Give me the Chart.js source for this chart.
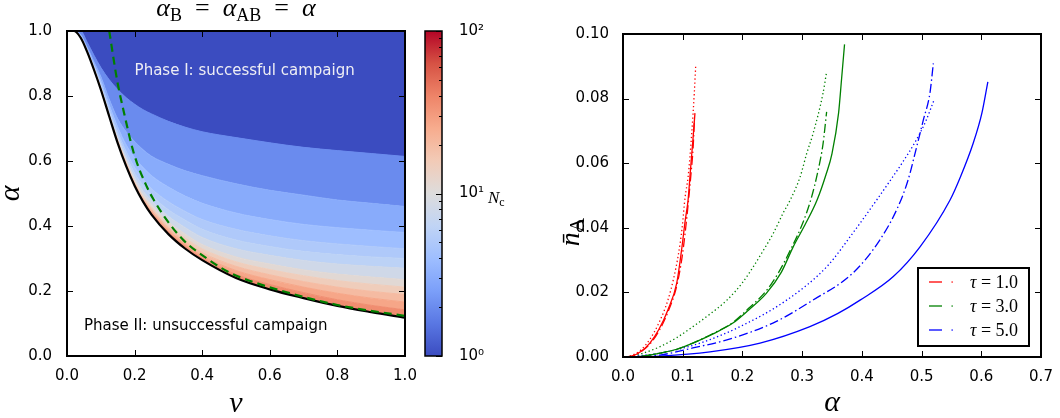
<!DOCTYPE html>
<html>
<head>
<meta charset="utf-8">
<script src="https://cdn.jsdelivr.net/npm/chart.js@4.4.1/dist/chart.umd.min.js"></script>
<style>
  html, body { margin: 0; padding: 0; background: #fff; }
  #wrap { position: relative; width: 1060px; height: 418px; }
  .pane { position: absolute; top: 0; height: 418px; }
</style>
</head>
<body>
<div id="wrap">
  <div class="pane" style="left:0;width:420px"><canvas id="phaseChart"></canvas></div>
  <div class="pane" style="left:410px;width:130px"><canvas id="cbarChart"></canvas></div>
  <div class="pane" style="left:540px;width:520px"><canvas id="densChart"></canvas></div>
</div>
<script>
// ---- phase diagram: N_c over (nu, alpha), alpha_B = alpha_AB = alpha ----
const nuGrid    = [0, 0.02, 0.04, 0.06, 0.08, 0.1, 0.125, 0.15, 0.175, 0.2, 0.225, 0.25, 0.3, 0.35, 0.4, 0.5, 0.6, 0.7, 0.8, 0.9, 1.0];
const alphaCrit = [1, 1, 0.98, 0.935, 0.88, 0.82, 0.737, 0.655, 0.584, 0.524, 0.475, 0.435, 0.375, 0.33, 0.295, 0.24, 0.205, 0.178, 0.154, 0.135, 0.118];
// level curves of N_c, from the top band (N_c = 1) down towards the critical line
const ncEdge1  = [1, 1, 1, 0.965, 0.925, 0.888, 0.85, 0.82, 0.795, 0.775, 0.758, 0.745, 0.722, 0.704, 0.69, 0.672, 0.656, 0.642, 0.632, 0.623, 0.614];
const ncEdge2  = [1, 1, 0.99, 0.95, 0.905, 0.86, 0.79, 0.73, 0.69, 0.66, 0.635, 0.615, 0.59, 0.57, 0.555, 0.53, 0.51, 0.495, 0.48, 0.47, 0.46];
const ncEdge3  = [1, 1, 0.987, 0.945, 0.897, 0.847, 0.772, 0.705, 0.65, 0.61, 0.58, 0.555, 0.52, 0.492, 0.47, 0.44, 0.42, 0.405, 0.395, 0.387, 0.38];
const ncEdge4  = [1, 1, 0.985, 0.942, 0.892, 0.838, 0.76, 0.69, 0.63, 0.58, 0.545, 0.515, 0.475, 0.445, 0.42, 0.39, 0.37, 0.355, 0.345, 0.337, 0.33];
const ncEdge5  = [1, 1, 0.984, 0.94, 0.888, 0.832, 0.752, 0.68, 0.617, 0.563, 0.525, 0.495, 0.45, 0.418, 0.39, 0.357, 0.337, 0.322, 0.312, 0.305, 0.30];
const ncEdge6  = [1, 1, 0.983, 0.939, 0.886, 0.828, 0.746, 0.672, 0.607, 0.55, 0.508, 0.478, 0.43, 0.395, 0.365, 0.33, 0.31, 0.294, 0.283, 0.276, 0.27];
const ncEdge7  = [1, 1, 0.982, 0.938, 0.884, 0.825, 0.742, 0.666, 0.6, 0.54, 0.496, 0.465, 0.413, 0.375, 0.343, 0.305, 0.283, 0.265, 0.252, 0.243, 0.235];
const ncEdge8  = [1, 1, 0.9815, 0.9375, 0.883, 0.824, 0.74, 0.663, 0.595, 0.535, 0.489, 0.457, 0.403, 0.363, 0.33, 0.29, 0.266, 0.247, 0.232, 0.221, 0.212];
const ncEdge9  = [1, 1, 0.981, 0.937, 0.882, 0.823, 0.739, 0.661, 0.592, 0.531, 0.484, 0.451, 0.395, 0.353, 0.318, 0.276, 0.25, 0.229, 0.212, 0.199, 0.189];
const ncEdge10 = [1, 1, 0.9805, 0.9365, 0.8815, 0.822, 0.738, 0.659, 0.589, 0.528, 0.48, 0.445, 0.387, 0.344, 0.308, 0.263, 0.235, 0.212, 0.193, 0.178, 0.166];
const ncEdge11 = [1, 1, 0.9803, 0.936, 0.881, 0.821, 0.7375, 0.657, 0.587, 0.526, 0.478, 0.44, 0.381, 0.337, 0.301, 0.251, 0.22, 0.195, 0.173, 0.156, 0.142];
// N_c value shown in each band, top band first
const bandNc = [1, 2, 3, 4, 5, 6, 8, 11, 15, 20, 27, 36];
// mean-field estimate of the boundary
const nuGreen    = [0.125, 0.148, 0.169, 0.198, 0.237, 0.257, 0.296, 0.346, 0.414, 0.482, 0.55, 0.65, 0.8, 1.0];
const alphaGreen = [1.0, 0.85, 0.747, 0.623, 0.519, 0.48, 0.417, 0.355, 0.3, 0.256, 0.228, 0.196, 0.157, 0.123];

const cbarTickValues = [1, 2, 3, 4, 5, 6, 7, 8, 9, 10, 20, 30, 40, 50, 60, 70, 80, 90, 100];
const cbarLabels = { 1: '10⁰', 10: '10¹', 100: '10²' };

// ---- n_A against alpha for three tau values ----
const tauValues = ['1.0', '3.0', '5.0'];
const tau1SolidA = [0.005, 0.015, 0.03, 0.045, 0.06, 0.075, 0.09, 0.098, 0.104, 0.109, 0.113, 0.117, 0.1205];
const tau1SolidN = [0, 0.0003, 0.0017, 0.0043, 0.0085, 0.0145, 0.0229, 0.033, 0.042, 0.0486, 0.058, 0.067, 0.0755];
const tau1DashA  = [0.005, 0.015, 0.03, 0.045, 0.06, 0.075, 0.09, 0.099, 0.105, 0.11, 0.114, 0.1175, 0.1195];
const tau1DashN  = [0, 0.0003, 0.0016, 0.004, 0.008, 0.0138, 0.022, 0.031, 0.04, 0.049, 0.057, 0.065, 0.073];
const tau1DotA   = [0.005, 0.015, 0.03, 0.045, 0.06, 0.075, 0.085, 0.093, 0.099, 0.104, 0.109, 0.115, 0.1195, 0.1217];
const tau1DotN   = [0, 0.0005, 0.0022, 0.0055, 0.0105, 0.0175, 0.0245, 0.032, 0.04, 0.0495, 0.0557, 0.069, 0.082, 0.090];
const tau3SolidA = [0.005, 0.03, 0.062, 0.09, 0.117, 0.15, 0.184, 0.21, 0.24, 0.265, 0.285, 0.305, 0.325, 0.34, 0.35, 0.361, 0.366, 0.371];
const tau3SolidN = [0, 0.0002, 0.0012, 0.0024, 0.0043, 0.0071, 0.0105, 0.0145, 0.0197, 0.0262, 0.0341, 0.041, 0.0486, 0.0565, 0.063, 0.0755, 0.086, 0.0968];
const tau3DashA  = [0.005, 0.03, 0.062, 0.09, 0.117, 0.15, 0.184, 0.21, 0.24, 0.26, 0.28, 0.3, 0.315, 0.327, 0.335, 0.341];
const tau3DashN  = [0, 0.0002, 0.0012, 0.0024, 0.0043, 0.0072, 0.0107, 0.015, 0.0205, 0.026, 0.033, 0.041, 0.049, 0.058, 0.066, 0.0759];
const tau3DotA   = [0.005, 0.0335, 0.062, 0.09, 0.117, 0.145, 0.174, 0.2, 0.218, 0.235, 0.252, 0.268, 0.28, 0.2965, 0.3076, 0.318, 0.335, 0.341];
const tau3DotN   = [0, 0.0012, 0.0032, 0.006, 0.0094, 0.0132, 0.0176, 0.023, 0.0279, 0.033, 0.0384, 0.0445, 0.0486, 0.0557, 0.063, 0.069, 0.0817, 0.0883];
const tau5SolidA = [0.005, 0.062, 0.1457, 0.2295, 0.313, 0.36, 0.397, 0.4527, 0.4974, 0.5477, 0.5645, 0.5863, 0.601, 0.611];
const tau5SolidN = [0, 0.0003, 0.0016, 0.0043, 0.0094, 0.0135, 0.0176, 0.0249, 0.0341, 0.0486, 0.0555, 0.0661, 0.0755, 0.0852];
const tau5DashA  = [0.005, 0.062, 0.117, 0.174, 0.251, 0.318, 0.385, 0.43, 0.4606, 0.4774, 0.4917, 0.503, 0.514, 0.5197];
const tau5DashN  = [0, 0.0006, 0.0028, 0.0053, 0.0105, 0.0176, 0.026, 0.0362, 0.0465, 0.0548, 0.065, 0.0734, 0.0817, 0.0909];
const tau5DotA   = [0.005, 0.062, 0.129, 0.196, 0.274, 0.341, 0.385, 0.4248, 0.447, 0.469, 0.49, 0.507, 0.521];
const tau5DotN   = [0, 0.0012, 0.0043, 0.0094, 0.0176, 0.0279, 0.0384, 0.0486, 0.0545, 0.0605, 0.0668, 0.073, 0.0796];

// ---- helpers ----
const SANS = '"DejaVu Sans", sans-serif';
const SERIF = '"Liberation Serif", "DejaVu Serif", serif';
const tickFont = { family: SANS, size: 15 };

const coolwarmStops = ['#3b4cc0', '#5977e3', '#7b9ff9', '#9ebeff', '#c0d4f5', '#dddcdc', '#f2cbb7', '#f7ac8e', '#ee8468', '#d65244', '#b40426'];
const hexRgb = h => [1, 3, 5].map(i => parseInt(h.slice(i, i + 2), 16));
function coolwarm(t) {
    t = Math.min(1, Math.max(0, t));
    const f = t * 10, i = Math.min(9, Math.floor(f)), u = f - i;
    const a = hexRgb(coolwarmStops[i]), b = hexRgb(coolwarmStops[i + 1]);
    return `rgb(${a.map((v, k) => Math.round(v + (b[k] - v) * u)).join(',')})`;
}

// parts: [text, kind]; kind 'it' italic, 'rm' upright, 'sub' upright subscript
function drawMath(ctx, parts, x, y, size, align = 'center') {
    const fontOf = p => `${p[1] === 'it' ? 'italic ' : ''}${p[1] === 'sub' ? Math.round(size * 0.7) : size}px ${SERIF}`;
    let total = 0;
    const widths = parts.map(p => { ctx.font = fontOf(p); const w = ctx.measureText(p[0]).width; total += w; return w; });
    let cx = align === 'center' ? x - total / 2 : x;
    ctx.textAlign = 'left';
    ctx.textBaseline = 'alphabetic';
    parts.forEach((p, i) => {
        ctx.font = fontOf(p);
        ctx.fillText(p[0], cx, p[1] === 'sub' ? y + size * 0.18 : y);
        cx += widths[i];
    });
}
function drawMathRotated(ctx, parts, x, y, size) {
    ctx.save();
    ctx.translate(x, y);
    ctx.rotate(-Math.PI / 2);
    drawMath(ctx, parts, 0, 0, size);
    ctx.restore();
}

// box round the plot area with inward ticks on every side
const frame = {
    id: 'frame',
    afterDatasetsDraw(chart, args, opts) {
        const { ctx, chartArea: a } = chart;
        ctx.save();
        ctx.strokeStyle = '#000';
        ctx.lineWidth = 1;
        const len = opts.tickLen || 6;
        const sides = opts.sides || ['top', 'right', 'bottom', 'left'];
        ctx.beginPath();
        for (const id of ['x', 'y']) {
            const s = chart.scales[id];
            if (!s || !s.options.display) continue;
            s.ticks.forEach(t => {
                const p = Math.round(s.getPixelForValue(t.value)) + 0.5;
                const l = opts.minorLen && !cbarLabels[t.value] ? opts.minorLen : len;
                if (id === 'x') {
                    if (sides.includes('bottom')) { ctx.moveTo(p, a.bottom); ctx.lineTo(p, a.bottom - l); }
                    if (sides.includes('top')) { ctx.moveTo(p, a.top); ctx.lineTo(p, a.top + l); }
                } else {
                    if (sides.includes('left')) { ctx.moveTo(a.left, p); ctx.lineTo(a.left + l, p); }
                    if (sides.includes('right')) { ctx.moveTo(a.right, p); ctx.lineTo(a.right - l, p); }
                }
            });
        }
        ctx.stroke();
        ctx.lineWidth = opts.lineWidth || 2;
        ctx.strokeRect(a.left, a.top, a.width, a.height);
        ctx.restore();
    }
};

const baseOpts = {
    responsive: true,
    maintainAspectRatio: false,
    animation: false,
    events: [],
    elements: { point: { radius: 0 }, line: { cubicInterpolationMode: 'monotone' } }
};

// ---- left: phase diagram ----
const pts = (xs, ys) => xs.map((x, i) => ({ x, y: ys[i] }));
const ncEdges = [ncEdge1, ncEdge2, ncEdge3, ncEdge4, ncEdge5, ncEdge6, ncEdge7, ncEdge8, ncEdge9, ncEdge10, ncEdge11];
const phaseSets = [
    { data: pts(nuGreen, alphaGreen), borderColor: '#008000', borderWidth: 2.2, borderDash: [8, 5], fill: false },
    { data: pts(nuGrid, alphaCrit), borderColor: '#000', borderWidth: 2.2, fill: false }
];
// each band fills from its upper level curve down to the one below it
for (let k = ncEdges.length - 1; k >= 0; k--) {
    const c = coolwarm(Math.log10(bandNc[k + 1]) / 2);
    phaseSets.push({ data: pts(nuGrid, ncEdges[k]), fill: phaseSets.length - 1, backgroundColor: c, borderColor: c, borderWidth: 1 });
}
phaseSets.push({ data: pts(nuGrid, ncEdge1), fill: 'end', backgroundColor: coolwarm(0), borderColor: coolwarm(0), borderWidth: 1 });

const phaseNotes = [
    { text: 'Phase I: successful campaign', nu: 0.2, alpha: 0.877, color: '#eeeef4' },
    { text: 'Phase II: unsuccessful campaign', nu: 0.05, alpha: 0.093, color: '#000' }
];
const phaseText = {
    id: 'phaseText',
    afterDatasetsDraw(chart) {
        const { ctx, scales: { x, y } } = chart;
        ctx.save();
        ctx.font = `15px ${SANS}`;
        ctx.textAlign = 'left';
        ctx.textBaseline = 'middle';
        phaseNotes.forEach(n => { ctx.fillStyle = n.color; ctx.fillText(n.text, x.getPixelForValue(n.nu), y.getPixelForValue(n.alpha)); });
        ctx.restore();
    },
    afterDraw(chart) {
        const { ctx, chartArea: a } = chart;
        ctx.save();
        ctx.fillStyle = '#000';
        drawMath(ctx, [['α', 'it'], ['B', 'sub'], ['  =  ', 'rm'], ['α', 'it'], ['AB', 'sub'], ['  =  ', 'rm'], ['α', 'it']], (a.left + a.right) / 2, 16, 26);
        drawMath(ctx, [['ν', 'it']], (a.left + a.right) / 2, 412, 30);
        drawMathRotated(ctx, [['α', 'it']], 19, (a.top + a.bottom) / 2, 30);
        ctx.restore();
    }
};

new Chart(document.getElementById('phaseChart'), {
    type: 'line',
    data: { datasets: phaseSets },
    options: {
        ...baseOpts,
        layout: { padding: { top: 31, right: 15, left: 0, bottom: 0 } },
        plugins: { legend: { display: false }, tooltip: { enabled: false }, frame: { tickLen: 6 } },
        scales: {
            x: {
                type: 'linear', min: 0, max: 1,
                afterFit: s => { s.height = 62; },
                grid: { display: false }, border: { display: false },
                ticks: { stepSize: 0.2, padding: 3, font: tickFont, color: '#000', maxRotation: 0, callback: v => v.toFixed(1) }
            },
            y: {
                type: 'linear', min: 0, max: 1,
                afterFit: s => { s.width = 67; },
                grid: { display: false }, border: { display: false },
                ticks: { stepSize: 0.2, padding: 7, font: tickFont, color: '#000', callback: v => v.toFixed(1) }
            }
        }
    },
    plugins: [frame, phaseText]
});

// ---- colour bar for N_c ----
const cbarText = {
    id: 'cbarText',
    afterDraw(chart) {
        const { ctx } = chart;
        ctx.save();
        ctx.fillStyle = '#000';
        drawMath(ctx, [['N', 'it'], ['c', 'sub']], 78, 203, 17, 'left');
        ctx.restore();
    }
};
new Chart(document.getElementById('cbarChart'), {
    type: 'bar',
    data: {
        labels: ['N_c'],
        datasets: [{
            data: [[1, 100]],
            barPercentage: 1, categoryPercentage: 1, borderWidth: 0,
            backgroundColor: c => {
                const a = c.chart.chartArea;
                if (!a) return coolwarm(0.5);
                const g = c.chart.ctx.createLinearGradient(0, a.bottom, 0, a.top);
                coolwarmStops.forEach((s, i) => g.addColorStop(i / 10, s));
                return g;
            }
        }]
    },
    options: {
        ...baseOpts,
        layout: { padding: { top: 31, left: 15, right: 0, bottom: 62 } },
        plugins: { legend: { display: false }, tooltip: { enabled: false }, frame: { tickLen: 6, minorLen: 3, lineWidth: 1.5, sides: ['right'] } },
        scales: {
            x: { display: false },
            y: {
                type: 'logarithmic', position: 'right', min: 1, max: 100,
                afterFit: s => { s.width = 98; },
                afterBuildTicks: s => { s.ticks = cbarTickValues.map(v => ({ value: v })); },
                grid: { display: false }, border: { display: false },
                ticks: { autoSkip: false, padding: 9, font: tickFont, color: '#000', callback: v => cbarLabels[v] || '' }
            }
        }
    },
    plugins: [frame, cbarText]
});

// ---- right: n_A against alpha ----
const tauColors = ['#ff0000', '#008000', '#0000ff'];
const dashStyles = { solid: [], dash: [9, 3, 1.5, 3], dot: [1.3, 2.6] };
const line = (xs, ys, color, style) => ({
    data: pts(xs, ys), borderColor: color, borderWidth: 1.3, borderDash: dashStyles[style], fill: false
});
const densSets = [
    line(tau1SolidA, tau1SolidN, tauColors[0], 'solid'),
    line(tau1DashA, tau1DashN, tauColors[0], 'dash'),
    line(tau1DotA, tau1DotN, tauColors[0], 'dot'),
    line(tau3SolidA, tau3SolidN, tauColors[1], 'solid'),
    line(tau3DashA, tau3DashN, tauColors[1], 'dash'),
    line(tau3DotA, tau3DotN, tauColors[1], 'dot'),
    line(tau5SolidA, tau5SolidN, tauColors[2], 'solid'),
    line(tau5DashA, tau5DashN, tauColors[2], 'dash'),
    line(tau5DotA, tau5DotN, tauColors[2], 'dot')
];

const densText = {
    id: 'densText',
    afterDraw(chart) {
        const { ctx, chartArea: a } = chart;
        ctx.save();
        ctx.fillStyle = '#000';
        drawMath(ctx, [['α', 'it']], (a.left + a.right) / 2, 411, 30);
        drawMathRotated(ctx, [['n\u0304', 'it'], ['A', 'sub']], 39, 232, 28);
        // legend box, lower right
        const w = 111, h = 78, bx = a.right - 12 - w, by = a.bottom - 11 - h;
        ctx.fillStyle = '#fff';
        ctx.fillRect(bx, by, w, h);
        ctx.lineWidth = 2;
        ctx.strokeStyle = '#000';
        ctx.strokeRect(bx, by, w, h);
        tauValues.forEach((tau, i) => {
            const ry = by + 14 + i * 24;
            ctx.strokeStyle = tauColors[i];
            ctx.fillStyle = tauColors[i];
            ctx.lineWidth = 1.3;
            ctx.beginPath();
            ctx.moveTo(bx + 11, ry);
            ctx.lineTo(bx + 24, ry);
            ctx.stroke();
            ctx.fillRect(bx + 33.5, ry - 0.6, 1.3, 1.3);
            ctx.fillStyle = '#000';
            drawMath(ctx, [['τ', 'it'], [' = ' + tau, 'rm']], bx + 52, ry + 6, 18, 'left');
        });
        ctx.restore();
    }
};

new Chart(document.getElementById('densChart'), {
    type: 'line',
    data: { datasets: densSets },
    options: {
        ...baseOpts,
        layout: { padding: { top: 34, right: 19, left: 0, bottom: 0 } },
        plugins: { legend: { display: false }, tooltip: { enabled: false }, frame: { tickLen: 6 } },
        scales: {
            x: {
                type: 'linear', min: 0, max: 0.7,
                afterFit: s => { s.height = 61; },
                grid: { display: false }, border: { display: false },
                ticks: { stepSize: 0.1, padding: 3, font: tickFont, color: '#000', maxRotation: 0, callback: v => v.toFixed(1) }
            },
            y: {
                type: 'linear', min: 0, max: 0.1,
                afterFit: s => { s.width = 83; },
                grid: { display: false }, border: { display: false },
                ticks: { stepSize: 0.02, padding: 6, font: tickFont, color: '#000', callback: v => v.toFixed(2) }
            }
        }
    },
    plugins: [frame, densText]
});
</script>
</body>
</html>
